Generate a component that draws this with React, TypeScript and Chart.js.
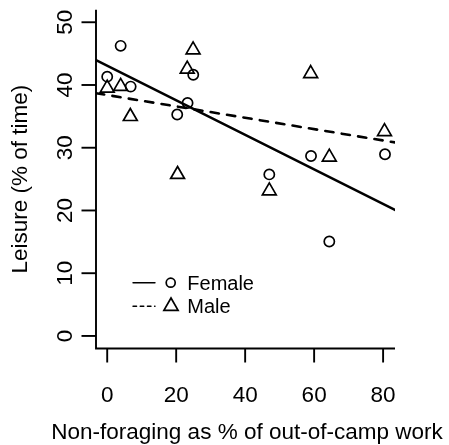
import { useEffect, useRef } from "react";
import { Chart, registerables } from "chart.js";

Chart.register(...registerables);

// Share of out-of-camp work that is not foraging (%), per camp
const femaleShare = [0, 3.9, 6.8, 20.3, 23.3, 24.95, 47.0, 59.1, 64.4, 80.55];
const maleShare = [0, 3.9, 6.7, 20.4, 23.2, 24.9, 47.0, 59.0, 64.4, 80.4];

// Leisure as % of time, per camp
const femaleLeisure = [41.33, 46.24, 39.74, 35.3, 37.14, 41.64, 25.75, 28.69, 15.05, 28.96];
const maleLeisure = [39.5, 39.77, 34.98, 25.74, 42.53, 45.59, 23.12, 41.82, 28.5, 32.56];

const seriesNames = ["Female", "Male"];
const xTicks = [0, 20, 40, 60, 80];
const yTicks = [0, 10, 20, 30, 40, 50];
const xLimits = [-3.25, 83.45];
const yLimits = [-2, 52];
const xTitle = "Non-foraging as % of out-of-camp work";
const yTitle = "Leisure (% of time)";

const FONT = '"Liberation Sans", Arial, Helvetica, sans-serif';

// Ordinary least-squares fit of y on x
function leastSquares(xs: number[], ys: number[]) {
  const n = xs.length;
  const mx = xs.reduce((a, b) => a + b, 0) / n;
  const my = ys.reduce((a, b) => a + b, 0) / n;
  let sxy = 0;
  let sxx = 0;
  for (let i = 0; i < n; i++) {
    sxy += (xs[i] - mx) * (ys[i] - my);
    sxx += (xs[i] - mx) * (xs[i] - mx);
  }
  const slope = sxy / sxx;
  return { slope, intercept: my - slope * mx };
}

function fitLine(xs: number[], ys: number[]) {
  const { slope, intercept } = leastSquares(xs, ys);
  return xLimits.map((x) => ({ x, y: intercept + slope * x }));
}

function toPoints(xs: number[], ys: number[]) {
  return xs.map((x, i) => ({ x, y: ys[i] }));
}

function strokeTriangle(ctx: CanvasRenderingContext2D, x: number, y: number, r: number) {
  ctx.beginPath();
  for (let k = 0; k < 3; k++) {
    const a = (k * 2 * Math.PI) / 3;
    const px = x + Math.sin(a) * r;
    const py = y - Math.cos(a) * r;
    if (k === 0) ctx.moveTo(px, py);
    else ctx.lineTo(px, py);
  }
  ctx.closePath();
  ctx.stroke();
}

// Draws the L-shaped frame, ticks, labels, titles and the key
const baseAxes = {
  id: "baseAxes",
  afterDraw(chart: Chart) {
    const { ctx, chartArea } = chart;
    const sx = chart.scales.x;
    const sy = chart.scales.y;
    const { left, right, top, bottom } = chartArea;

    ctx.save();
    ctx.strokeStyle = "#000";
    ctx.fillStyle = "#000";
    ctx.lineWidth = 1.9;
    ctx.lineCap = "butt";

    ctx.beginPath();
    ctx.moveTo(left, top);
    ctx.lineTo(left, bottom);
    ctx.lineTo(right, bottom);
    ctx.stroke();

    // x axis ticks and labels
    ctx.font = `22.5px ${FONT}`;
    ctx.textAlign = "center";
    ctx.textBaseline = "alphabetic";
    for (const t of xTicks) {
      const px = sx.getPixelForValue(t);
      ctx.beginPath();
      ctx.moveTo(px, bottom);
      ctx.lineTo(px, bottom + 14);
      ctx.stroke();
      ctx.fillText(String(t), px, bottom + 53);
    }

    // y axis ticks and rotated labels
    for (const t of yTicks) {
      const py = sy.getPixelForValue(t);
      ctx.beginPath();
      ctx.moveTo(left - 14.5, py);
      ctx.lineTo(left, py);
      ctx.stroke();
      ctx.save();
      ctx.translate(left - 24.5, py);
      ctx.rotate(-Math.PI / 2);
      ctx.fillText(String(t), 0, 0);
      ctx.restore();
    }

    // axis titles
    ctx.fillText(xTitle, (left + right) / 2 + 1.5, bottom + 90);
    ctx.save();
    ctx.translate(left - 69.5, (top + bottom) / 2);
    ctx.rotate(-Math.PI / 2);
    ctx.fillText(yTitle, 0, 0);
    ctx.restore();

    // key
    const kx = left + 37;
    const rows = [top + 273, top + 296.5];
    ctx.font = `20px ${FONT}`;
    ctx.textAlign = "left";
    rows.forEach((ry, i) => {
      ctx.lineWidth = 1.4;
      ctx.lineCap = "round";
      ctx.setLineDash(i === 0 ? [] : [3.6, 3.6]);
      ctx.beginPath();
      ctx.moveTo(kx, ry);
      ctx.lineTo(kx + 22, ry);
      ctx.stroke();
      ctx.setLineDash([]);
      ctx.lineWidth = 1.7;
      if (i === 0) {
        ctx.beginPath();
        ctx.arc(kx + 37.7, ry, 4.5, 0, Math.PI * 2);
        ctx.stroke();
      } else {
        strokeTriangle(ctx, kx + 38, ry, 8.2);
      }
      ctx.fillText(seriesNames[i], kx + 54.3, ry + 7);
    });

    ctx.restore();
  },
};

export default function App() {
  const canvasRef = useRef<HTMLCanvasElement | null>(null);

  useEffect(() => {
    const canvas = canvasRef.current;
    if (!canvas) return;

    const chart = new Chart(canvas, {
      type: "scatter",
      data: {
        datasets: [
          {
            label: seriesNames[0],
            data: toPoints(femaleShare, femaleLeisure),
            pointStyle: "circle",
            pointRadius: 5.1,
            pointBorderWidth: 1.7,
            pointBorderColor: "#000",
            pointBackgroundColor: "rgba(0,0,0,0)",
            showLine: false,
          },
          {
            label: seriesNames[1],
            data: toPoints(maleShare, maleLeisure),
            pointStyle: "triangle",
            pointRadius: 8.0,
            pointBorderWidth: 1.7,
            pointBorderColor: "#000",
            pointBackgroundColor: "rgba(0,0,0,0)",
            showLine: false,
          },
          {
            label: seriesNames[0] + " fit",
            data: fitLine(femaleShare, femaleLeisure),
            showLine: true,
            borderColor: "#000",
            borderWidth: 2.6,
            borderCapStyle: "round",
            pointRadius: 0,
            fill: false,
          },
          {
            label: seriesNames[1] + " fit",
            data: fitLine(maleShare, maleLeisure),
            showLine: true,
            borderColor: "#000",
            borderWidth: 2.6,
            borderCapStyle: "round",
            borderDash: [8.3, 8.3],
            pointRadius: 0,
            fill: false,
          },
        ],
      },
      options: {
        responsive: false,
        devicePixelRatio: 1,
        animation: false,
        layout: { padding: { left: 96, right: 54, top: 8, bottom: 96.5 } },
        scales: {
          x: { type: "linear", min: xLimits[0], max: xLimits[1], display: false },
          y: { type: "linear", min: yLimits[0], max: yLimits[1], display: false },
        },
        plugins: {
          legend: { display: false },
          tooltip: { enabled: false },
        },
      },
      plugins: [baseAxes],
    });

    return () => chart.destroy();
  }, []);

  return (
    <div
      style={{
        position: "fixed",
        left: 0,
        top: 0,
        width: 449,
        height: 445,
        background: "#fff",
      }}
    >
      <canvas ref={canvasRef} width={449} height={445} style={{ display: "block" }} />
    </div>
  );
}
